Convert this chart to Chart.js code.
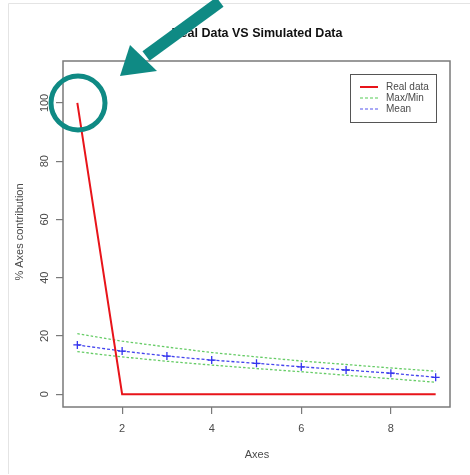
<!DOCTYPE html>
<html>
<head>
<meta charset="utf-8">
<script src="https://cdn.jsdelivr.net/npm/chart.js@4"></script>
<style>
  body { margin: 0; background: #fff; }
  #wrap { width: 470px; height: 475px; position: relative; }
</style>
</head>
<body>
<div id="wrap"><canvas id="myChart" width="470" height="475"></canvas></div>
<script>
// data
const axesIdx = [1, 2, 3, 4, 5, 6, 7, 8, 9];
const realData = [100, 0, 0, 0, 0, 0, 0, 0, 0];
const simMax = [20.8, 18.2, 16.2, 14.3, 12.8, 11.4, 10.2, 9.0, 7.9];
const simMin = [14.6, 12.8, 11.3, 10.0, 8.8, 7.7, 6.5, 5.3, 4.1];
const simMean = [16.9, 14.8, 13.1, 11.7, 10.6, 9.4, 8.3, 7.2, 5.8];
const xTicks = [2, 4, 6, 8];
const yTicks = [0, 20, 40, 60, 80, 100];

function pts(ys) {
    return axesIdx.map(function (x, i) { return { x: x, y: ys[i] }; });
}

const frameColor = '#7a7a7a';
const textColor = '#4a4a4a';
const teal = '#0f8a84';
const font = '"Liberation Sans", Arial, sans-serif';

// box around the plot, frame of the page, title, legend, and the highlight marks
const extras = {
    id: 'extras',
    beforeDraw: function (chart) {
        const c = chart.ctx;
        c.save();
        c.fillStyle = '#fff';
        c.fillRect(0, 0, chart.width, chart.height);
        c.strokeStyle = '#e4e4e4';
        c.lineWidth = 1;
        c.beginPath();
        c.moveTo(8.5, 474);
        c.lineTo(8.5, 3.5);
        c.lineTo(470, 3.5);
        c.stroke();
        c.restore();
    },
    afterDraw: function (chart) {
        const c = chart.ctx;
        const a = chart.chartArea;
        c.save();
        c.strokeStyle = frameColor;
        c.lineWidth = 1.5;
        c.strokeRect(a.left, a.top, a.right - a.left, a.bottom - a.top);

        // y tick labels, R style (rotated, centred on the tick)
        const ys = chart.scales.y;
        c.fillStyle = textColor;
        c.font = '11px ' + font;
        c.textAlign = 'center';
        c.textBaseline = 'middle';
        yTicks.forEach(function (v) {
            c.save();
            c.translate(45, ys.getPixelForValue(v));
            c.rotate(-Math.PI / 2);
            c.fillText(String(v), 0, 0);
            c.restore();
        });

        // title
        c.fillStyle = '#111';
        c.font = 'bold 12.5px ' + font;
        c.fillText('Real Data VS Simulated Data', 257, 34);

        // axis titles
        c.fillStyle = textColor;
        c.font = '11px ' + font;
        c.fillText('Axes', 257, 455);
        c.save();
        c.translate(20, 232);
        c.rotate(-Math.PI / 2);
        c.fillText('% Axes contribution', 0, 0);
        c.restore();

        // legend
        c.strokeStyle = '#555';
        c.lineWidth = 1;
        c.strokeRect(350.5, 74.5, 86, 48);
        const items = [
            { label: 'Real data', color: '#e8141a', dash: [], w: 2 },
            { label: 'Max/Min', color: '#55cc55', dash: [3, 2], w: 1.2 },
            { label: 'Mean', color: '#5555ee', dash: [3, 2], w: 1.2 }
        ];
        c.textAlign = 'left';
        c.font = '10px ' + font;
        items.forEach(function (it, i) {
            const y = 87 + i * 11;
            c.strokeStyle = it.color;
            c.lineWidth = it.w;
            c.setLineDash(it.dash);
            c.beginPath();
            c.moveTo(360, y);
            c.lineTo(378, y);
            c.stroke();
            c.setLineDash([]);
            c.fillStyle = textColor;
            c.fillText(it.label, 386, y);
        });

        // circle on the first point
        c.strokeStyle = teal;
        c.lineWidth = 5;
        c.beginPath();
        c.arc(78, 103, 27, 0, Math.PI * 2);
        c.stroke();

        // arrow pointing at it
        c.fillStyle = teal;
        c.strokeStyle = teal;
        c.lineWidth = 12;
        c.lineCap = 'butt';
        c.beginPath();
        c.moveTo(220, 2);
        c.lineTo(146, 56);
        c.stroke();
        c.beginPath();
        c.moveTo(120, 76);
        c.lineTo(130, 45);
        c.lineTo(157, 71);
        c.closePath();
        c.fill();
        c.restore();
    }
};

function fixedTicks(list) {
    return function (scale) {
        scale.ticks = list.map(function (v) { return { value: v }; });
    };
}

new Chart(document.getElementById('myChart'), {
    type: 'line',
    data: {
        datasets: [
            {
                label: 'Real data',
                data: pts(realData),
                borderColor: '#e8141a',
                borderWidth: 2,
                pointRadius: 0,
                tension: 0
            },
            {
                label: 'Max',
                data: pts(simMax),
                borderColor: '#66cc66',
                borderWidth: 1.3,
                borderDash: [2.5, 2],
                pointRadius: 0
            },
            {
                label: 'Min',
                data: pts(simMin),
                borderColor: '#66cc66',
                borderWidth: 1.3,
                borderDash: [2.5, 2],
                pointRadius: 0
            },
            {
                label: 'Mean',
                data: pts(simMean),
                borderColor: '#4444ee',
                borderWidth: 1.3,
                borderDash: [3, 2],
                pointStyle: 'cross',
                pointRadius: 4,
                pointBorderWidth: 1.3,
                pointBorderColor: '#3333ee'
            }
        ]
    },
    options: {
        responsive: false,
        animation: false,
        events: [],
        layout: { padding: { left: 0, right: 20, top: 61, bottom: 0 } },
        plugins: { legend: { display: false }, tooltip: { enabled: false } },
        scales: {
            x: {
                type: 'linear',
                min: 0.68,
                max: 9.32,
                afterBuildTicks: fixedTicks(xTicks),
                grid: { drawOnChartArea: false, drawTicks: true, tickLength: 7, color: frameColor, lineWidth: 1.2 },
                border: { display: false },
                ticks: { color: textColor, font: { size: 11, family: font }, padding: 8, maxRotation: 0 },
                afterFit: function (scale) { scale.height = 68; }
            },
            y: {
                min: -4.4,
                max: 114.4,
                afterBuildTicks: fixedTicks(yTicks),
                grid: { drawOnChartArea: false, drawTicks: true, tickLength: 7, color: frameColor, lineWidth: 1.2 },
                border: { display: false },
                ticks: { display: false },
                afterFit: function (scale) { scale.width = 63; }
            }
        }
    },
    plugins: [extras]
});
</script>
</body>
</html>
